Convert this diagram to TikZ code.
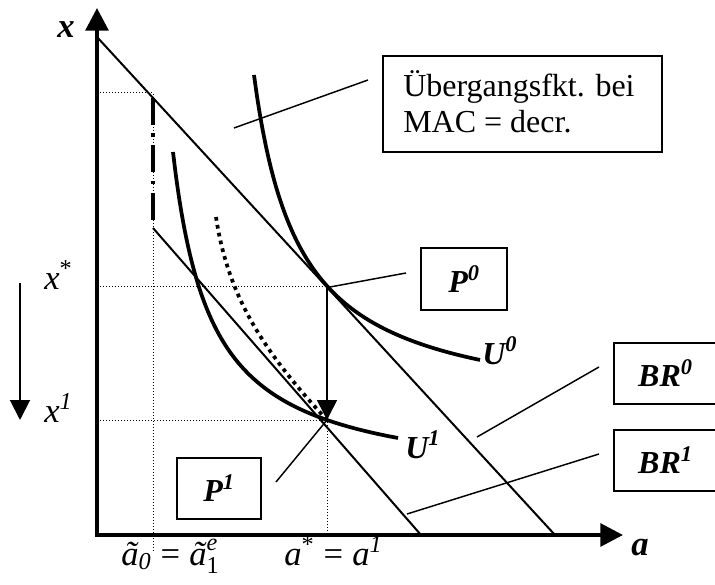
\documentclass[tikz,border=0pt]{standalone}
\usepackage{fontspec}
\setmainfont{Liberation Serif}
\usepackage{amsmath}
\usetikzlibrary{arrows.meta}
\begin{document}
\begin{tikzpicture}[x=0.75pt,y=-0.75pt,
  axis/.style={line width=3pt, line join=miter},
  smalltip/.style={-{Triangle[width=15pt,length=15pt]}},
  brline/.style={line width=1.5pt},
  ucurve/.style={line width=2.8pt},
  guide/.style={line width=0.75pt, dash pattern=on 0.75pt off 1.5pt},
  transline/.style={line width=2.6pt, dash pattern=on 20pt off 6.5pt on 2.6pt off 6.5pt},
  dotcurve/.style={line width=2.8pt, dash pattern=on 2.8pt off 3.2pt},
  pointer/.style={line width=1.1pt},
  box/.style={draw, line width=1.5pt, rectangle, inner sep=0pt},
  lbl/.style={font=\fontsize{24}{28}\selectfont, inner sep=0pt},
  mlbl/.style={font=\fontsize{26}{30}\selectfont, inner sep=0pt},
]
\useasboundingbox (0,0) rectangle (715,585);
\clip (0,0) rectangle (715,585);

% key points
\coordinate (O) at (97,535);
\coordinate (ytip) at (97,8);
\coordinate (xtip) at (623,535);
\coordinate (B0top) at (97,37);
\coordinate (B0bot) at (555,535);
\coordinate (B1top) at (153,228);
\coordinate (B1bot) at (421,535);
\coordinate (P0) at (327,286);
\coordinate (P1) at (327,420);
\coordinate (Ptop) at (153,93);
\coordinate (Yt) at (97,93);
\coordinate (Ys) at (97,286);
\coordinate (Y1) at (97,420);
\coordinate (Tbot) at (153,552);
\coordinate (Abot) at (327,535);
\coordinate (Ttop) at (153,98);
\coordinate (Tend) at (153,220);

% guide lines
\draw[guide] (Yt) -- (Ptop) -- (Tbot);
\draw[guide] (Ys) -- (P0) -- (Abot);
\draw[guide] (Y1) -- (P1);

% transition segment
\draw[transline] (Ttop) -- (Tend);

% best response lines
\draw[brline] (B0top) -- (B0bot);
\draw[brline] (B1top) -- (B1bot);

% indifference curves
\draw[ucurve] plot[domain=254:480, samples=80, smooth] (\x, {417.2 - 15536/(\x-208.6)});
\draw[ucurve] plot[domain=173:398, samples=80, smooth] (\x, {486.8 - 12857/(\x-134.6)});
\coordinate (D0) at (216,217);
\draw[dotcurve] (D0) .. controls (228,297) and (264,352) .. (P1);

% arrow P0 -> P1
\draw[line width=1.2pt, smalltip] (P0) -- (P1);

% axes
\draw[axis, {Triangle[width=17pt,length=17pt]}-{Triangle[width=17pt,length=17pt]}] (ytip) -- (O) -- (xtip);

% left arrow
\coordinate (La) at (20,283);
\coordinate (Lb) at (20,420);
\draw[line width=1.5pt, smalltip] (La) -- (Lb);

% boxes
\node[box, minimum width=209.25pt, minimum height=72pt] (ueb) at (522.5,104) {};
\node[lbl, anchor=base west] (ueb1) at (403,96.7) {Übergangsfkt. bei};
\node[lbl, anchor=base west] (ueb2) at (403,132.7) {MAC = decr.};
\node[box, lbl, minimum width=64.5pt, minimum height=46.5pt] (p0box) at (464,279) {\textbf{\textit{P\textsuperscript{0}}}};
\node[box, lbl, minimum width=63pt, minimum height=45.75pt] (p1box) at (219,488.5) {\textbf{\textit{P\textsuperscript{1}}}};
\node[box, lbl, minimum width=77.25pt, minimum height=45.75pt] (br0box) at (665.5,373.5) {\textbf{\textit{BR\textsuperscript{0}}}};
\node[box, lbl, minimum width=77.25pt, minimum height=45.75pt] (br1box) at (665.5,460.5) {\textbf{\textit{BR\textsuperscript{1}}}};

% pointer lines
\coordinate (q1) at (234,128);
\coordinate (q1e) at (368,80);
\draw[pointer] (q1) -- (q1e);
\coordinate (q2) at (330,287);
\coordinate (q2e) at (406,273);
\draw[pointer] (q2) -- (q2e);
\coordinate (q3) at (276,482);
\draw[pointer] (q3) -- (P1);
\coordinate (q4) at (477,437);
\coordinate (q4e) at (599,367);
\draw[pointer] (q4) -- (q4e);
\coordinate (q5) at (407,514);
\coordinate (q5e) at (599,454);
\draw[pointer] (q5) -- (q5e);

% labels
\node[lbl, font=\fontsize{26}{30}\selectfont, anchor=base] (xlab) at (66,38) {\textbf{\textit{x}}};
\node[lbl, font=\fontsize{26}{30}\selectfont, anchor=base] (alab) at (640,555) {\textbf{\textit{a}}};
\node[lbl, anchor=base west] (u0lab) at (482,364) {\textbf{\textit{U\textsuperscript{0}}}};
\node[lbl, anchor=base west] (u1lab) at (405,458) {\textbf{\textit{U\textsuperscript{1}}}};
\node[mlbl, anchor=base west] (xs) at (44,289) {\textit{x}\textsuperscript{*}};
\node[mlbl, anchor=base west] (x1) at (44,422) {\textit{x}\textsuperscript{\textit{1}}};
\node[mlbl, anchor=base west] (atil) at (121,565) {$\text{\textit{ã}}_{\text{\textit{0}}}\;\text{=}\;\text{\textit{ã}}^{\text{\textit{e}}}_{\text{1}}$};
\node[mlbl, anchor=base west] (astar) at (284,565) {$\text{\textit{a}}^{\text{*}}\;\text{=}\;\text{\textit{a}}^{\text{\textit{1}}}$};
\end{tikzpicture}
\end{document}
